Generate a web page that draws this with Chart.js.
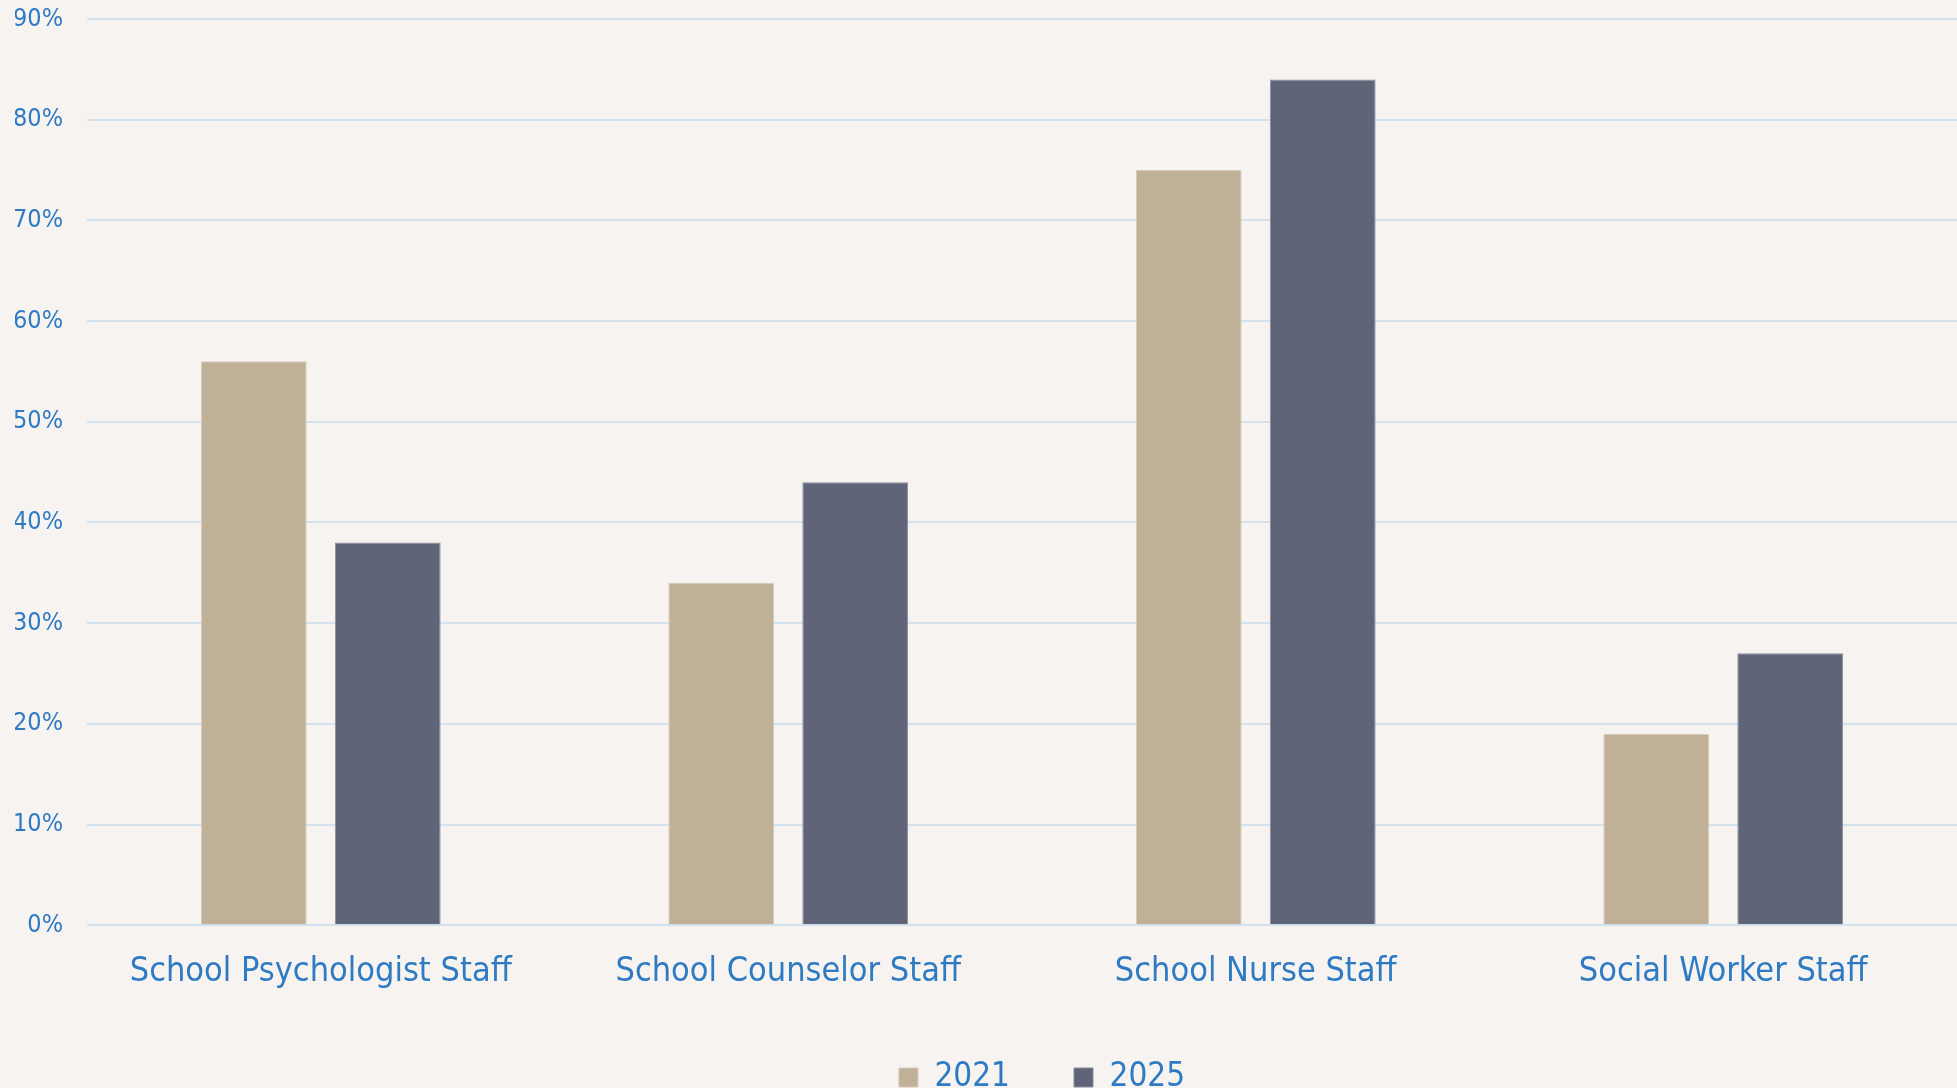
<!DOCTYPE html>
<html>
<head>
<meta charset="utf-8">
<script src="https://cdn.jsdelivr.net/npm/chart.js@4/dist/chart.umd.min.js"></script>
<style>
  html, body { margin: 0; padding: 0; background: #f6f3f0; }
  #wrap { width: 1957px; height: 1088px; position: relative; }
</style>
</head>
<body>
<div id="wrap"><canvas id="staffChart"></canvas></div>
<script>
// categories + series
var categories = ["School Psychologist Staff", "School Counselor Staff", "School Nurse Staff", "Social Worker Staff"];
var series2021 = [56, 34, 75, 19];
var series2025 = [38, 44, 84, 27];
var yTicks = [0, 10, 20, 30, 40, 50, 60, 70, 80, 90];

var textColor = "#2e7bc4";
var fontFamily = "'DejaVu Sans Condensed', 'DejaVu Sans', sans-serif";

Chart.defaults.font.family = fontFamily;
Chart.defaults.color = textColor;

// nudge the legend a bit, like the original
var legendNudge = {
  id: "legendNudge",
  afterLayout: function (chart) {
    var lg = chart.legend;
    if (!lg) return;
    lg.left += 20;
    lg.right += 20;
    lg.top -= 15;
    lg.bottom -= 15;
  },
};

var ctx = document.getElementById("staffChart").getContext("2d");
new Chart(ctx, {
  type: "bar",
  data: {
    labels: categories,
    datasets: [
      {
        label: "2021",
        data: series2021,
        backgroundColor: "#bfb097",
        borderColor: "#d6cbb8",
        borderWidth: 1,
      },
      {
        label: "2025",
        data: series2025,
        backgroundColor: "#5f6478",
        borderColor: "#8a8d9c",
        borderWidth: 1,
      },
    ],
  },
  plugins: [legendNudge],
  options: {
    responsive: true,
    maintainAspectRatio: false,
    animation: false,
    datasets: {
      bar: {
        categoryPercentage: 0.573,
        barPercentage: 0.79,
      },
    },
    layout: {
      padding: { left: 15, right: 0, top: 19, bottom: -31 },
    },
    plugins: {
      tooltip: { enabled: false },
      legend: {
        position: "bottom",
        fullSize: false,
        labels: {
          boxWidth: 19,
          boxHeight: 19,
          padding: 64,
          color: textColor,
          font: { size: 33 },
        },
      },
    },
    scales: {
      x: {
        grid: { display: false },
        border: { display: false },
        ticks: {
          color: textColor,
          font: { size: 34 },
          padding: 19,
          maxRotation: 0,
        },
      },
      y: {
        min: 0,
        max: 90,
        afterBuildTicks: function (axis) {
          axis.ticks = yTicks.map(function (v) { return { value: v }; });
        },
        afterFit: function (axis) {
          axis.width = 72;
          axis.paddingTop = 0;
          axis.paddingBottom = 0;
        },
        border: { display: false },
        grid: {
          color: "#d3e2ef",
          lineWidth: 2,
          drawTicks: false,
        },
        ticks: {
          color: textColor,
          font: { size: 25 },
          padding: 24,
          callback: function (v) { return v + "%"; },
        },
      },
    },
  },
});
</script>
</body>
</html>
